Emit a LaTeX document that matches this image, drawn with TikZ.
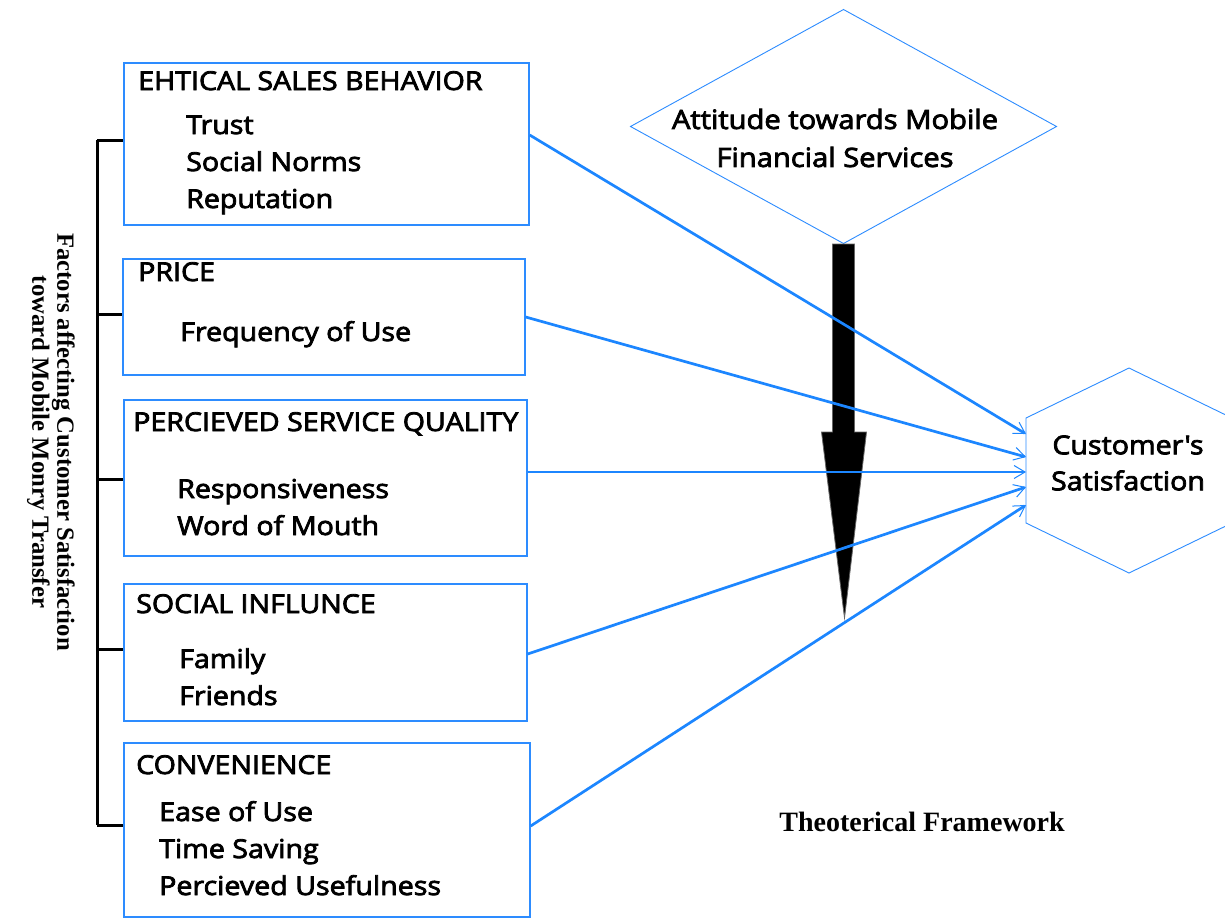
\documentclass[tikz,border=0pt]{standalone}
\usepackage{fontspec}
\setmainfont{Open Sans}[FakeStretch=1.1, FakeBold=3]
\newfontfamily\rawfont{Open Sans}[FakeStretch=1.1, FakeBold=3, Ligatures=TeXOff]
\newfontfamily\capfont{Liberation Serif}
\usetikzlibrary{arrows.meta,calc}
\definecolor{lineblue}{RGB}{28,134,255}
\definecolor{edgeblue}{RGB}{45,140,255}
\tikzset{
  factorbox/.style={draw=edgeblue, line width=1.3pt, rectangle, inner sep=0pt, fill=none},
  label/.style={anchor=base west, inner sep=0pt, font=\fontsize{26}{30}\selectfont},
  thinblue/.style={draw=edgeblue, line width=0.9pt},
  link/.style={draw=lineblue, line width=2.7pt,
    -{Straight Barb[length=11pt,width=13pt,line width=1pt]}},
  bracket/.style={draw=black, line width=3pt},
}
\begin{document}
\begin{tikzpicture}[x=1pt,y=-1pt]
\useasboundingbox (0,0) rectangle (1225,921);
\fill[white] (0,0) rectangle (1225,921);

% factor boxes
\node[factorbox, minimum width=405pt, minimum height=162pt] (b1) at (326.5,144) {};
\node[factorbox, minimum width=402pt, minimum height=116pt] (b2) at (324,317) {};
\node[factorbox, minimum width=403pt, minimum height=156pt] (b3) at (325.5,478) {};
\node[factorbox, minimum width=403pt, minimum height=137pt] (b4) at (325.5,652.5) {};
\node[factorbox, minimum width=406pt, minimum height=174pt] (b5) at (327,830) {};

% box contents
\node[label] (t1) at (138,90) {EHTICAL SALES BEHAVIOR};
\node[label] (t1a) at (186,134) {Trust};
\node[label] (t1b) at (186,171) {Social Norms};
\node[label] (t1c) at (186,208) {Reputation};

\node[label] (t2) at (138,281) {PRICE};
\node[label] (t2a) at (180,341) {Frequency of Use};

\node[label] (t3) at (133,431) {PERCIEVED SERVICE QUALITY};
\node[label] (t3a) at (177,498) {Responsiveness};
\node[label] (t3b) at (177,535) {Word of Mouth};

\node[label] (t4) at (136,613) {SOCIAL INFLUNCE};
\node[label] (t4a) at (179,668) {Family};
\node[label] (t4b) at (179,705) {Friends};

\node[label] (t5) at (136,774) {CONVENIENCE};
\node[label] (t5a) at (159,821) {Ease of Use};
\node[label] (t5b) at (159,858) {Time Saving};
\node[label] (t5c) at (159,895) {Percieved Usefulness};

% bracket grouping the factors
\coordinate (k1) at (97,140);
\coordinate (k2) at (97,314);
\coordinate (k3) at (97,479);
\coordinate (k4) at (97,649);
\coordinate (k5) at (97,825);
\draw[bracket] (k1) -- (k5);
\foreach \k/\b in {k1/b1,k2/b2,k3/b3,k4/b4,k5/b5}
  \draw[bracket] (\k) -- (\k -| \b.west);

\node[rotate=-90, align=center, inner sep=0pt,
      font=\capfont\bfseries\fontsize{24.7}{25}\selectfont] (side) at (51,442)
  {Factors affecting Customer Satisfaction\\toward Mobile Monry Transfer};

% attitude diamond
\coordinate (dc) at (843.5,126.5);
\draw[thinblue] ($(dc)+(-213,0)$) -- ($(dc)+(0,-117)$) -- ($(dc)+(213,0)$)
  -- ($(dc)+(0,117)$) -- cycle;
\coordinate (dbot) at ($(dc)+(0,117.5)$);
\node[align=center, inner sep=0pt, font=\fontsize{26.5}{38}\selectfont] (att) at (835,138)
  {Attitude towards Mobile\\Financial Services};

% satisfaction hexagon
\coordinate (hc) at (1129,470.5);
\draw[thinblue] ($(hc)+(0,-102.5)$) -- ($(hc)+(-103,-52.5)$) -- ($(hc)+(-103,52.5)$)
  -- ($(hc)+(0,102.5)$) -- ($(hc)+(103,52.5)$) -- ($(hc)+(103,-52.5)$) -- cycle;
\node[align=center, inner sep=0pt, font=\rawfont\fontsize{26}{36}\selectfont] (hex) at (1128,463)
  {Customer's\\Satisfaction};
\coordinate (h1) at ($(hc)+(-103,-36.5)$);
\coordinate (h2) at ($(hc)+(-103,-13.5)$);
\coordinate (h3) at ($(hc)+(-103,1.5)$);
\coordinate (h4) at ($(hc)+(-103,16.5)$);
\coordinate (h5) at ($(hc)+(-103,34.5)$);

% moderating arrow
\begin{scope}[shift={(dbot)}]
  \filldraw[fill=black, draw=black!60, line width=0.8pt]
    (-11,0) -- (11,0) -- (11,188) -- (23,188) -- (1,374) -- (-22,188) -- (-11,188) -- cycle;
\end{scope}

% factor links
\draw[link] ($(b1.east)+(0,-9)$) -- (h1);
\draw[link] (b2.east) -- (h2);
\draw[link] ($(b3.east)+(0,-6)$) -- (h3);
\draw[link] ($(b4.east)+(0,1.5)$) -- (h4);
\draw[link] ($(b5.east)+(0,-4)$) -- (h5);

\node[font=\capfont\bfseries\fontsize{28}{30}\selectfont, inner sep=0pt] (title) at (922,822)
  {Theoterical Framework};
\end{tikzpicture}
\end{document}
